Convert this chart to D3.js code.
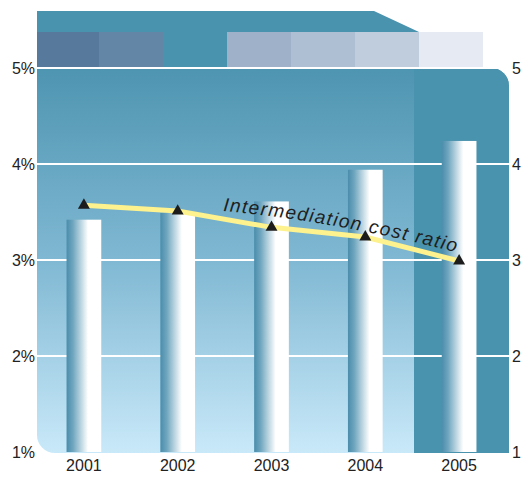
<!DOCTYPE html>
<html>
<head>
<meta charset="utf-8">
<script src="https://cdn.jsdelivr.net/npm/d3@7"></script>
<style>
  html, body { margin: 0; padding: 0; background: #ffffff; }
  svg { display: block; }
  text { font-family: "Liberation Sans", Arial, Helvetica, sans-serif; }
</style>
</head>
<body>
<svg id="chart" width="522" height="478"></svg>
<script>
// ---- data ----
const years = ["2001", "2002", "2003", "2004", "2005"];
const barValues = [3.42, 3.49, 3.61, 3.94, 4.24];
const ratioValues = [3.57, 3.51, 3.34, 3.24, 2.99];
const leftTicks = [1, 2, 3, 4, 5];
const rightTicks = [1, 2, 3, 4, 5];
const lineLabel = "Intermediation cost ratio";
const swatchColors = ["#56799c", "#6385a6", "#4a93ae", "#9fb1c9", "#aebfd4", "#c0cddc", "#e6ebf3"];

// ---- layout ----
const svg = d3.select("#chart");
const pLeft = 37, pRight = 509, pTopY = 68, pBottomY = 452;
const y = d3.scaleLinear().domain([1, 5]).range([pBottomY, pTopY]);
const x = d3.scaleBand().domain(years).range([37, 506]).paddingInner(0.63).paddingOuter(0.315);

const defs = svg.append("defs");
const pg = defs.append("linearGradient").attr("id", "panelGrad")
  .attr("x1", 0).attr("y1", 0).attr("x2", 0).attr("y2", 1);
pg.append("stop").attr("offset", "0%").attr("stop-color", "#4e95b1");
pg.append("stop").attr("offset", "50%").attr("stop-color", "#80b8d3");
pg.append("stop").attr("offset", "100%").attr("stop-color", "#c9e9f9");

const bg = defs.append("linearGradient").attr("id", "barGrad")
  .attr("x1", 0).attr("y1", 0).attr("x2", 1).attr("y2", 0);
bg.append("stop").attr("offset", "0%").attr("stop-color", "#4a8dab");
bg.append("stop").attr("offset", "18%").attr("stop-color", "#6ea5be");
bg.append("stop").attr("offset", "62%").attr("stop-color", "#ffffff");
bg.append("stop").attr("offset", "100%").attr("stop-color", "#ffffff");

// header band with slanted end
svg.append("path")
  .attr("d", "M37,11 H374 L419,32 H37 Z")
  .attr("fill", "#4a93ae");

// swatches
const sx = d3.scaleBand().domain(d3.range(swatchColors.length)).range([35, 483]);
svg.append("g").selectAll("rect").data(swatchColors).join("rect")
  .attr("x", (d, i) => Math.max(37, sx(i)))
  .attr("width", (d, i) => sx(i) + sx.bandwidth() - Math.max(37, sx(i)))
  .attr("y", 32).attr("height", y(5) - 32)
  .attr("fill", d => d);

// panel
const r = 18, pTop = y(5), pBot = y(1) + 1;
const panelPath = `M${pLeft},${pTop} H${pRight - r} A${r},${r} 0 0 1 ${pRight},${pTop + r} V${pBot} H${pLeft + r} A${r},${r} 0 0 1 ${pLeft},${pBot - r} Z`;
svg.append("path").attr("d", panelPath).attr("fill", "url(#panelGrad)");

// darker right column
defs.append("clipPath").attr("id", "panelClip").append("path").attr("d", panelPath);
svg.append("rect")
  .attr("x", 414).attr("y", pTop).attr("width", pRight - 414).attr("height", pBot - pTop)
  .attr("fill", "#4a93ae").attr("clip-path", "url(#panelClip)");

// gridlines
svg.append("g").selectAll("line").data(leftTicks.filter(d => d > 1)).join("line")
  .attr("x1", pLeft).attr("x2", pRight + 2)
  .attr("y1", d => y(d)).attr("y2", d => y(d))
  .attr("stroke", "#ffffff").attr("stroke-width", 2);

// bars
svg.append("g").selectAll("rect").data(years).join("rect")
  .attr("x", d => x(d))
  .attr("width", x.bandwidth())
  .attr("y", (d, i) => y(barValues[i]))
  .attr("height", (d, i) => y(1) - y(barValues[i]))
  .attr("fill", "url(#barGrad)");

// line
const line = d3.line()
  .x((d, i) => x(years[i]) + x.bandwidth() / 2)
  .y(d => y(d));
svg.append("path").datum(ratioValues)
  .attr("d", line)
  .attr("fill", "none")
  .attr("stroke", "#fdf28e")
  .attr("stroke-width", 5);

svg.append("g").selectAll("path").data(ratioValues).join("path")
  .attr("transform", (d, i) => `translate(${x(years[i]) + x.bandwidth() / 2},${y(d)})`)
  .attr("d", d3.symbol(d3.symbolTriangle, 62))
  .attr("fill", "#1c1c1c");

// line label along curve
defs.append("path").attr("id", "labelPath").attr("d", "M223,211 Q343,222 470,256");
svg.append("text")
  .attr("font-size", 19)
  .attr("font-style", "italic")
  .attr("letter-spacing", 1.4)
  .attr("fill", "#1e1e1e")
  .append("textPath")
  .attr("href", "#labelPath")
  .text(lineLabel);

// axes
const leftAxis = d3.axisLeft(y).tickValues(leftTicks).tickFormat(d => d + "%").tickSize(0).tickPadding(2);
const gL = svg.append("g").attr("transform", `translate(${pLeft},0)`).call(leftAxis);
gL.select(".domain").remove();
gL.selectAll("text").attr("font-size", 16).attr("fill", "#222").attr("font-family", "'Liberation Sans', Arial, sans-serif");

const rightAxis = d3.axisRight(y).tickValues(rightTicks).tickFormat(d3.format("d")).tickSize(0).tickPadding(3);
const gR = svg.append("g").attr("transform", `translate(${pRight},0)`).call(rightAxis);
gR.select(".domain").remove();
gR.selectAll("text").attr("font-size", 16).attr("fill", "#222").attr("font-family", "'Liberation Sans', Arial, sans-serif");

const bottomAxis = d3.axisBottom(x).tickSize(0).tickPadding(8);
const gB = svg.append("g").attr("transform", `translate(0,${pBottomY})`).call(bottomAxis);
gB.select(".domain").remove();
gB.selectAll("text").attr("font-size", 16).attr("fill", "#222").attr("font-family", "'Liberation Sans', Arial, sans-serif");
</script>
</body>
</html>
